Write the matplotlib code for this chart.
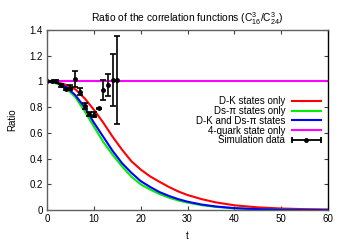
import matplotlib
matplotlib.use("Agg")
import matplotlib.pyplot as plt
import numpy as np
from matplotlib.lines import Line2D
from matplotlib.legend_handler import HandlerBase
from matplotlib.container import ErrorbarContainer
from matplotlib.ticker import FormatStrFormatter

plt.rcParams['font.family'] = ['Liberation Sans', 'DejaVu Sans']
plt.rcParams['mathtext.fontset'] = 'custom'
plt.rcParams['mathtext.rm'] = 'Liberation Sans'
plt.rcParams['mathtext.it'] = 'Liberation Sans'

# model curves
t_curve = [0, 2, 4, 6, 8, 10, 12, 14, 16, 18, 20, 22, 24, 26, 28, 30, 33, 36, 40, 45, 50, 55, 60]
dk_only = [1.0, 0.995, 0.975, 0.94, 0.87, 0.78, 0.68, 0.57, 0.47, 0.38, 0.315, 0.262, 0.22,
           0.18, 0.145, 0.117, 0.085, 0.06, 0.037, 0.021, 0.012, 0.007, 0.004]
dspi_only = [1.0, 0.985, 0.95, 0.88, 0.77, 0.65, 0.53, 0.43, 0.34, 0.26, 0.20, 0.16, 0.125,
             0.097, 0.075, 0.058, 0.038, 0.025, 0.013, 0.006, 0.003, 0.0013, 0.0006]
dk_dspi = [1.0, 0.99, 0.96, 0.895, 0.80, 0.68, 0.57, 0.46, 0.365, 0.29, 0.225, 0.18, 0.14,
           0.11, 0.085, 0.065, 0.043, 0.028, 0.015, 0.007, 0.003, 0.0015, 0.0007]
t_flat = [0, 60]
fourquark = [1.0, 1.0]

# simulation data
t_sim = [0, 1, 2, 3, 4, 5, 6, 7, 8, 9, 10, 11, 12, 13, 14, 15]
r_sim = [1.0, 1.0, 1.0, 0.97, 0.94, 0.95, 1.02, 0.92, 0.81, 0.75, 0.74, 0.79, 0.93, 0.97, 1.01, 1.01]
e_sim = [0.004, 0.004, 0.008, 0.01, 0.01, 0.02, 0.06, 0.026, 0.026, 0.015, 0.02, 0.004,
         0.078, 0.085, 0.2, 0.34]

FS = 7


class HandlerHBar(HandlerBase):
    # gnuplot style key sample for errorbars: horizontal bar with end caps
    def create_artists(self, legend, orig_handle, xdescent, ydescent, width, height, fontsize, trans):
        y = height / 2 - ydescent
        x0 = -xdescent
        x1 = x0 + width
        line = Line2D([x0, x1], [y, y], color='k', lw=1.3)
        caps = Line2D([x0, x1], [y, y], ls='none', marker='|', ms=4, mew=1.3, color='k')
        dot = Line2D([(x0 + x1) / 2], [y], ls='none', marker='o', ms=2.5, color='k')
        for a in (line, caps, dot):
            a.set_transform(trans)
        return [line, caps, dot]


fig = plt.figure(figsize=(3.46, 2.42), dpi=100)
ax = fig.add_axes([0.136, 0.132, 0.812, 0.744])

ax.plot(t_curve, dk_only, color='#ff0000', lw=1.5, label='D-K states only')
ax.plot(t_curve, dspi_only, color='#00ee00', lw=1.5, label='Ds-π states only')
ax.plot(t_curve, dk_dspi, color='#0000ff', lw=1.5, label='D-K and Ds-π states')
ax.plot(t_flat, fourquark, color='#ff00ff', lw=1.5, label='4-quark state only')
eb = ax.errorbar(t_sim, r_sim, yerr=e_sim, fmt='o', color='k', ms=2.5, lw=1.2,
                 capsize=2, capthick=1.2, label='Simulation data')

ax.set_xlim(0, 60)
ax.set_ylim(0, 1.4)
ax.set_xticks(range(0, 61, 10))
ax.set_yticks(np.arange(0, 1.41, 0.2))
ax.yaxis.set_major_formatter(FormatStrFormatter('%g'))
ax.tick_params(direction='in', length=3, width=0.8, labelsize=FS, colors='#404040',
               top=True, right=True, pad=3)
ax.tick_params(labelcolor='black')
for s in ['left', 'bottom', 'top']:
    ax.spines[s].set_color('#606060')
ax.spines['right'].set_color('black')
for s in ax.spines.values():
    s.set_linewidth(1.0)

ax.set_xlabel('t', fontsize=FS, labelpad=5)
ax.set_ylabel('Ratio', fontsize=FS, labelpad=9)
ax.set_title('Ratio of the correlation functions (C$_{16}^{3}$/C$_{24}^{3}$)',
             fontsize=7.4, pad=6)

ax.legend(loc='upper right', bbox_to_anchor=(0.975, 0.632), frameon=False,
          markerfirst=False, fontsize=FS, handlelength=3.0, handletextpad=0.7,
          labelspacing=-0.02, borderpad=0, borderaxespad=0,
          handler_map={ErrorbarContainer: HandlerHBar()})

fig.savefig('out.png', dpi=100)
